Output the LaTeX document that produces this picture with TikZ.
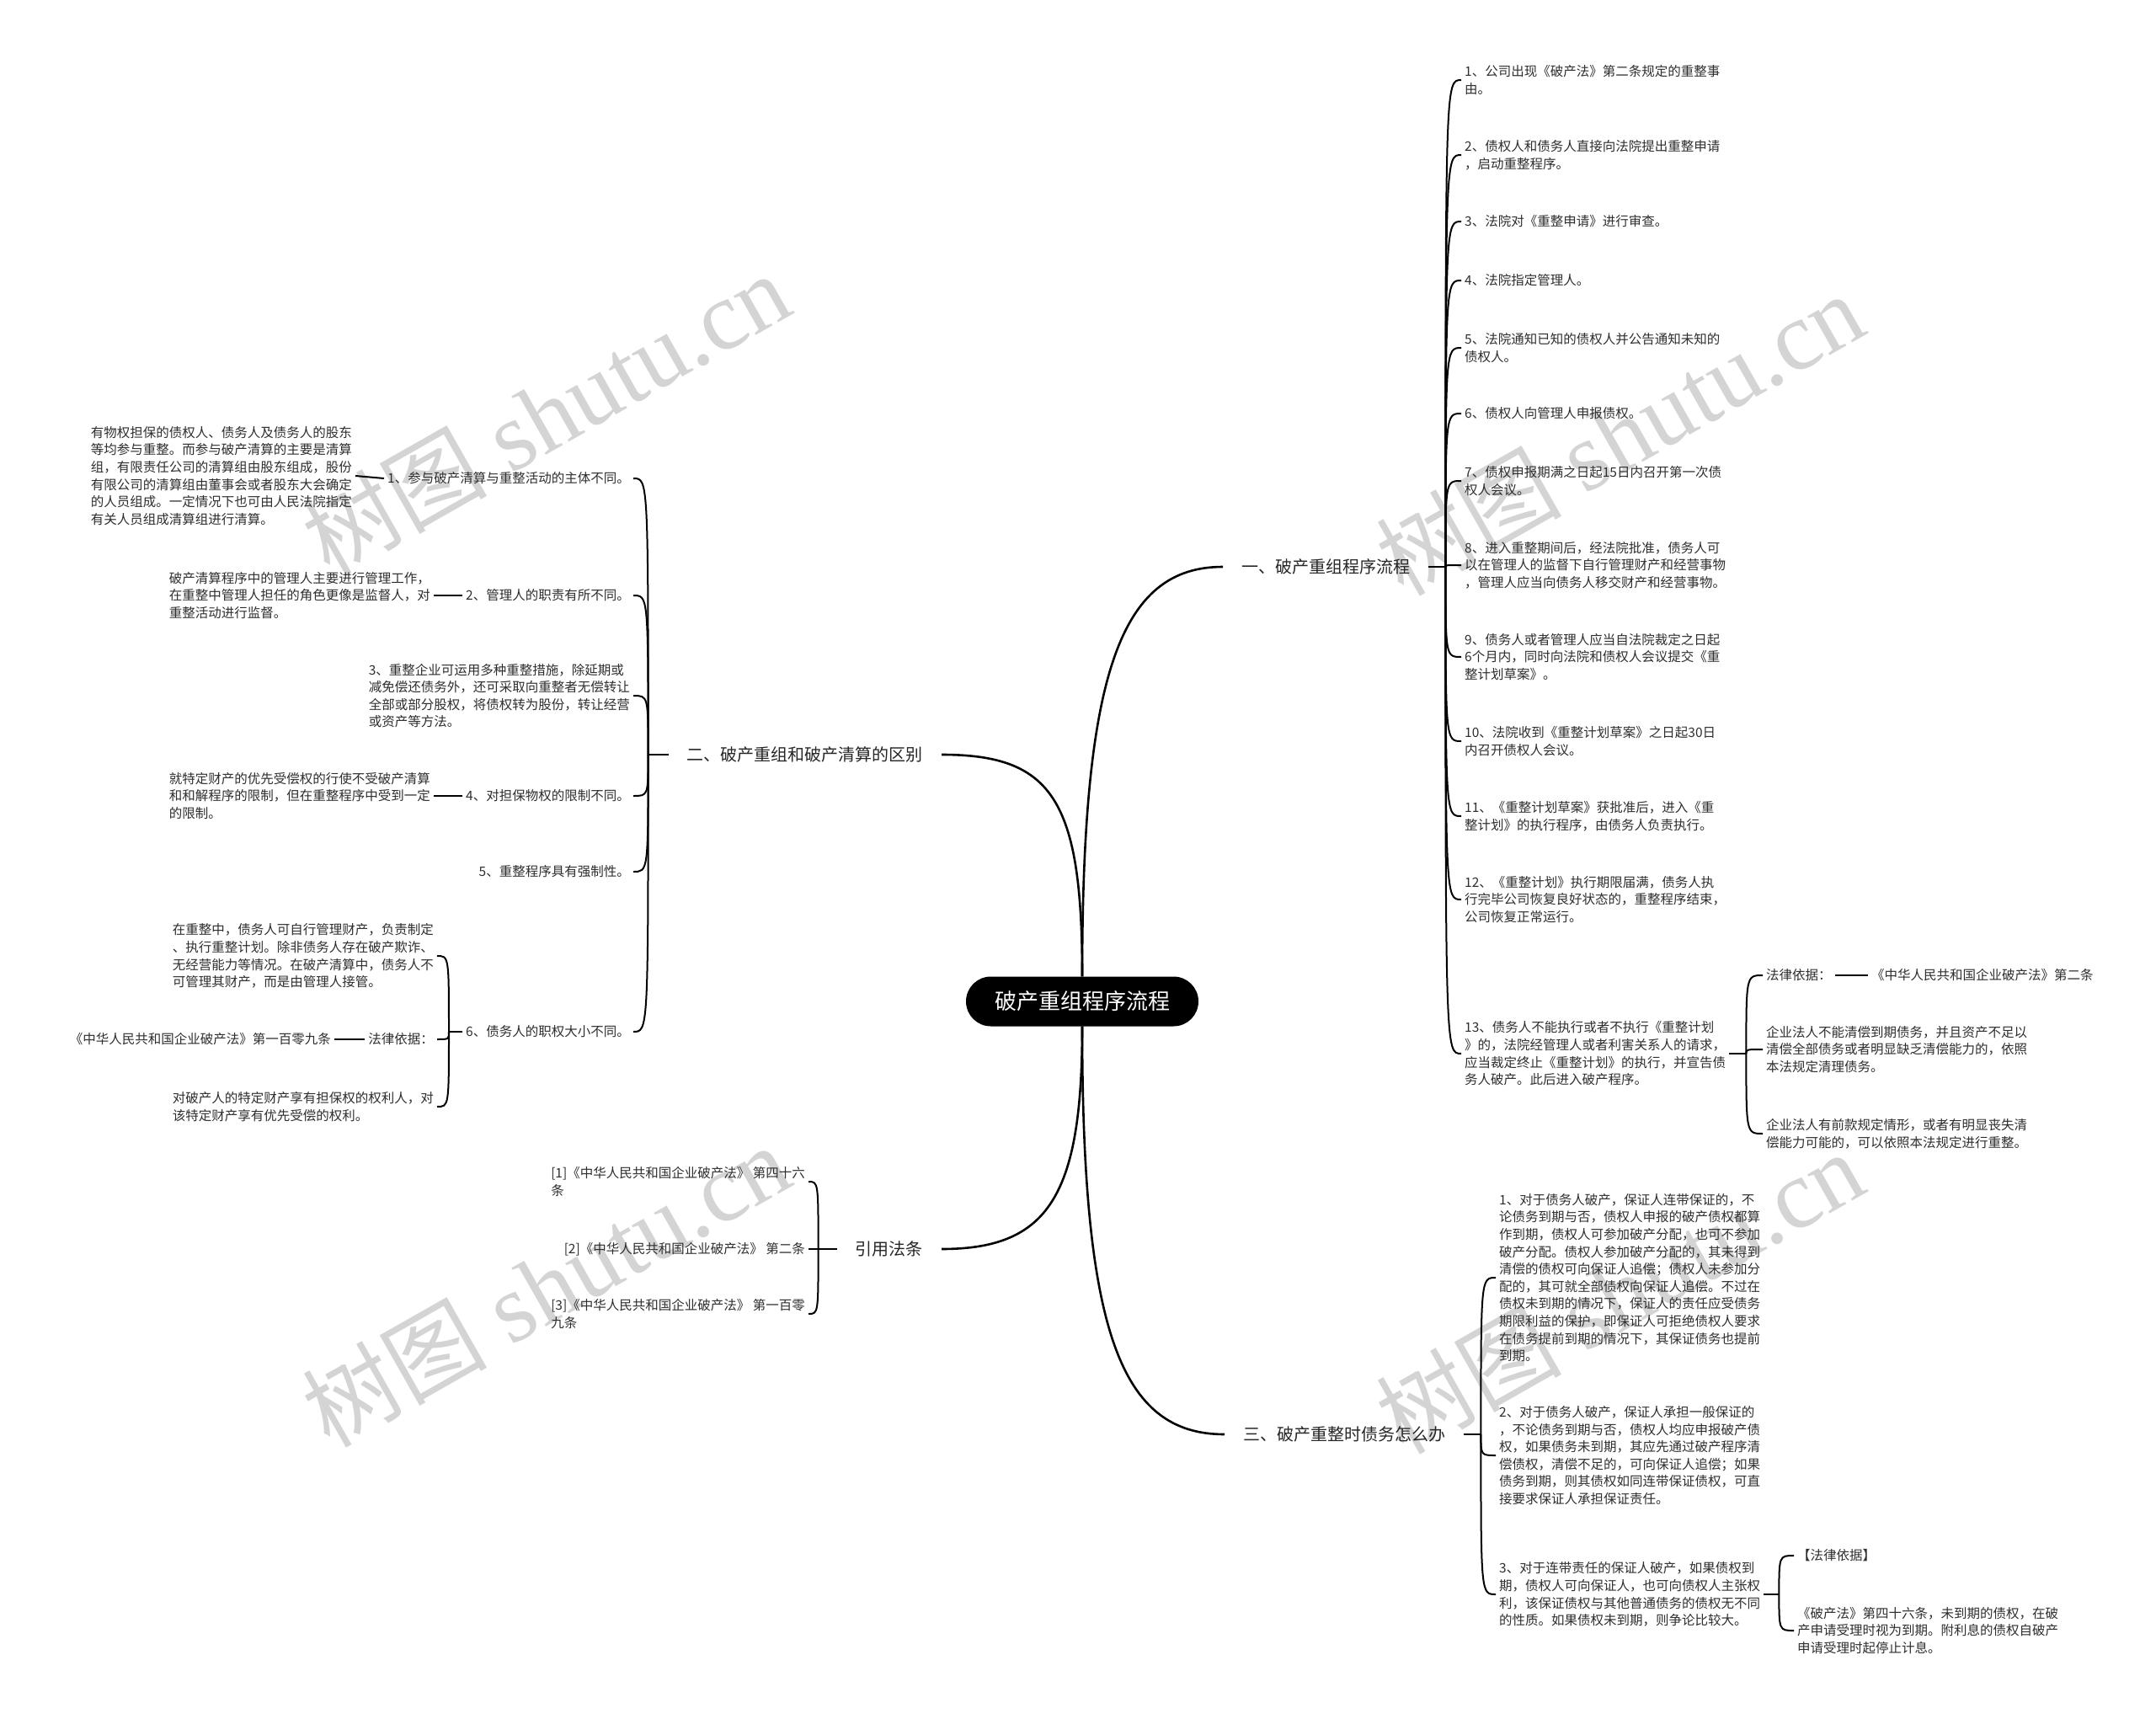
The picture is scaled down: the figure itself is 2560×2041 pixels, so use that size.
\documentclass[tikz,border=0pt]{standalone}
\usepackage{fontspec}
\setmainfont{Noto Sans CJK SC}
\newfontfamily\wmcjk{Noto Sans CJK SC}
\newfontfamily\wmlat{Liberation Serif}
\begin{document}
\begin{tikzpicture}[x=1pt,y=-1pt,
  txt/.style={font=\fontsize{15.5}{20.6}\selectfont, align=left, inner xsep=4pt, inner ysep=3pt, text=black!82},
  mainlbl/.style={font=\fontsize{20}{24}\selectfont, inner xsep=22pt, inner ysep=6pt, text=black!85},
  rootnode/.style={fill=black, text=white, rounded corners=29.5pt, minimum width=276pt, minimum height=59pt, font=\fontsize{26}{30}\selectfont, inner sep=0pt},
  trunk/.style={line width=2.6pt},
  brk/.style={line width=2pt},
  wm/.style={text=black!17, rotate=29.6, inner sep=0pt}
]
\fill[white] (0,0) rectangle (2560,2041);
\useasboundingbox (0,0) rectangle (2560,2041);

% watermarks
\foreach \p/\n in {{(648,492)}/w1,{(1923,516)}/w2,{(648,1527)}/w3,{(1923,1535)}/w4}
  \node[wm] (\n) at \p {{\wmcjk\fontsize{110}{110}\selectfont 树图}\hspace{28pt}{\wmlat\fontsize{116}{116}\selectfont shutu.cn}};

% central and main branches
\node[rootnode] (root) at (1285,1189) {破产重组程序流程};
\node[mainlbl, anchor=west] (b1) at (1452,673) {一、破产重组程序流程};
\node[mainlbl, anchor=east] (b2) at (1118,896) {二、破产重组和破产清算的区别};
\node[mainlbl, anchor=west] (b3) at (1454,1703) {三、破产重整时债务怎么办};
\node[mainlbl, anchor=east] (b4) at (1118,1483) {引用法条};

% branch 1 children
\node[txt, anchor=west] (r1) at (1735,95) {1、公司出现《破产法》第二条规定的重整事\\由。};
\node[txt, anchor=west] (r2) at (1735,184) {2、债权人和债务人直接向法院提出重整申请\\，启动重整程序。};
\node[txt, anchor=west] (r3) at (1735,263) {3、法院对《重整申请》进行审查。};
\node[txt, anchor=west] (r4) at (1735,333) {4、法院指定管理人。};
\node[txt, anchor=west] (r5) at (1735,413) {5、法院通知已知的债权人并公告通知未知的\\债权人。};
\node[txt, anchor=west] (r6) at (1735,491) {6、债权人向管理人申报债权。};
\node[txt, anchor=west] (r7) at (1735,571) {7、债权申报期满之日起15日内召开第一次债\\权人会议。};
\node[txt, anchor=west] (r8) at (1735,671) {8、进入重整期间后，经法院批准，债务人可\\以在管理人的监督下自行管理财产和经营事物\\，管理人应当向债务人移交财产和经营事物。};
\node[txt, anchor=west] (r9) at (1735,780) {9、债务人或者管理人应当自法院裁定之日起\\6个月内，同时向法院和债权人会议提交《重\\整计划草案》。};
\node[txt, anchor=west] (r10) at (1735,880) {10、法院收到《重整计划草案》之日起30日\\内召开债权人会议。};
\node[txt, anchor=west] (r11) at (1735,969) {11、《重整计划草案》获批准后，进入《重\\整计划》的执行程序，由债务人负责执行。};
\node[txt, anchor=west] (r12) at (1735,1068) {12、《重整计划》执行期限届满，债务人执\\行完毕公司恢复良好状态的，重整程序结束，\\公司恢复正常运行。};
\node[txt, anchor=west] (r13) at (1735,1251) {13、债务人不能执行或者不执行《重整计划\\》的，法院经管理人或者利害关系人的请求，\\应当裁定终止《重整计划》的执行，并宣告债\\务人破产。此后进入破产程序。};

\node[txt, anchor=west] (r13a) at (2093,1158) {法律依据：};
\node[txt, anchor=west] (r13a1) at (2218,1158) {《中华人民共和国企业破产法》第二条};
\node[txt, anchor=west] (r13b) at (2093,1246) {企业法人不能清偿到期债务，并且资产不足以\\清偿全部债务或者明显缺乏清偿能力的，依照\\本法规定清理债务。};
\node[txt, anchor=west] (r13c) at (2093,1346) {企业法人有前款规定情形，或者有明显丧失清\\偿能力可能的，可以依照本法规定进行重整。};

% branch 3 children
\node[txt, anchor=west] (t1) at (1776,1517) {1、对于债务人破产，保证人连带保证的，不\\论债务到期与否，债权人申报的破产债权都算\\作到期，债权人可参加破产分配，也可不参加\\破产分配。债权人参加破产分配的，其未得到\\清偿的债权可向保证人追偿；债权人未参加分\\配的，其可就全部债权向保证人追偿。不过在\\债权未到期的情况下，保证人的责任应受债务\\期限利益的保护，即保证人可拒绝债权人要求\\在债务提前到期的情况下，其保证债务也提前\\到期。};
\node[txt, anchor=west] (t2) at (1776,1728) {2、对于债务人破产，保证人承担一般保证的\\，不论债务到期与否，债权人均应申报破产债\\权，如果债务未到期，其应先通过破产程序清\\偿债权，清偿不足的，可向保证人追偿；如果\\债务到期，则其债权如同连带保证债权，可直\\接要求保证人承担保证责任。};
\node[txt, anchor=west] (t3) at (1776,1893) {3、对于连带责任的保证人破产，如果债权到\\期，债权人可向保证人，也可向债权人主张权\\利，该保证债权与其他普通债务的债权无不同\\的性质。如果债权未到期，则争论比较大。};
\node[txt, anchor=west] (t3a) at (2130,1847) {【法律依据】};
\node[txt, anchor=west] (t3b) at (2130,1936) {《破产法》第四十六条，未到期的债权，在破\\产申请受理时视为到期。附利息的债权自破产\\申请受理时起停止计息。};

% branch 2 children
\node[txt, anchor=east] (l1) at (752,568) {1、参与破产清算与重整活动的主体不同。};
\node[txt, anchor=east] (l1a) at (422,565) {有物权担保的债权人、债务人及债务人的股东\\等均参与重整。而参与破产清算的主要是清算\\组，有限责任公司的清算组由股东组成，股份\\有限公司的清算组由董事会或者股东大会确定\\的人员组成。一定情况下也可由人民法院指定\\有关人员组成清算组进行清算。};
\node[txt, anchor=east] (l2) at (752,707) {2、管理人的职责有所不同。};
\node[txt, anchor=east] (l2a) at (515,707) {破产清算程序中的管理人主要进行管理工作，\\在重整中管理人担任的角色更像是监督人，对\\重整活动进行监督。};
\node[txt, anchor=east] (l3) at (752,826) {3、重整企业可运用多种重整措施，除延期或\\减免偿还债务外，还可采取向重整者无偿转让\\全部或部分股权，将债权转为股份，转让经营\\或资产等方法。};
\node[txt, anchor=east] (l4) at (752,945) {4、对担保物权的限制不同。};
\node[txt, anchor=east] (l4a) at (515,945) {就特定财产的优先受偿权的行使不受破产清算\\和和解程序的限制，但在重整程序中受到一定\\的限制。};
\node[txt, anchor=east] (l5) at (752,1035) {5、重整程序具有强制性。};
\node[txt, anchor=east] (l6) at (752,1225) {6、债务人的职权大小不同。};
\node[txt, anchor=east] (l6a) at (519,1135) {在重整中，债务人可自行管理财产，负责制定\\、执行重整计划。除非债务人存在破产欺诈、\\无经营能力等情况。在破产清算中，债务人不\\可管理其财产，而是由管理人接管。};
\node[txt, anchor=east] (l6b) at (519,1234) {法律依据：};
\node[txt, anchor=east] (l6b1) at (397,1234) {《中华人民共和国企业破产法》第一百零九条};
\node[txt, anchor=east] (l6c) at (519,1314) {对破产人的特定财产享有担保权的权利人，对\\该特定财产享有优先受偿的权利。};

% branch 4 children
\node[txt, anchor=east] (c1) at (960,1403) {[1]《中华人民共和国企业破产法》 第四十六\\条};
\node[txt, anchor=east] (c2) at (960,1483) {[2]《中华人民共和国企业破产法》 第二条};
\node[txt, anchor=east] (c3) at (960,1560) {[3]《中华人民共和国企业破产法》 第一百零\\九条};

% junctions
\coordinate (J1) at ([xshift=20pt]b1.east);
\coordinate (J13) at ([xshift=20pt]r13.east);
\coordinate (J3) at ([xshift=20pt]b3.east);
\coordinate (Jt3) at ([xshift=18pt]t3.east);
\coordinate (J2) at ([xshift=-24pt]b2.west);
\coordinate (J6) at ([xshift=-16pt]l6.west);
\coordinate (J4) at ([xshift=-22pt]b4.west);

% trunk curves
\draw[trunk] (root.north) .. controls (1285,800) and (1330,673) .. (b1.west);
\draw[trunk] (root.north) .. controls (1285,950) and (1250,896) .. (b2.east);
\draw[trunk] (root.south) .. controls (1285,1580) and (1330,1703) .. (b3.west);
\draw[trunk] (root.south) .. controls (1285,1420) and (1245,1483) .. (b4.east);

% brackets right
\draw[brk] (b1.east) -- (J1);
\foreach \c in {r1,r2,r3,r4,r5,r6,r7,r8,r9,r10,r11,r12,r13}
  \draw[brk] (J1) .. controls (J1 |- \c.west) and (J1 |- \c.west) .. (\c.west);
\draw[brk] (r13.east) -- (J13);
\foreach \c in {r13a,r13b,r13c}
  \draw[brk] (J13) .. controls (J13 |- \c.west) and (J13 |- \c.west) .. (\c.west);
\draw[brk] (r13a.east) -- (r13a1.west);
\draw[brk] (b3.east) -- (J3);
\foreach \c in {t1,t2,t3}
  \draw[brk] (J3) .. controls (J3 |- \c.west) and (J3 |- \c.west) .. (\c.west);
\draw[brk] (t3.east) -- (Jt3);
\foreach \c in {t3a,t3b}
  \draw[brk] (Jt3) .. controls (Jt3 |- \c.west) and (Jt3 |- \c.west) .. (\c.west);

% brackets left
\draw[brk] (b2.west) -- (J2);
\foreach \c in {l1,l2,l3,l4,l5,l6}
  \draw[brk] (J2) .. controls (J2 |- \c.east) and (J2 |- \c.east) .. (\c.east);
\draw[brk] (l1.west) -- (l1a.east);
\draw[brk] (l2.west) -- (l2a.east);
\draw[brk] (l4.west) -- (l4a.east);
\draw[brk] (l6.west) -- (J6);
\foreach \c in {l6a,l6b,l6c}
  \draw[brk] (J6) .. controls (J6 |- \c.east) and (J6 |- \c.east) .. (\c.east);
\draw[brk] (l6b.west) -- (l6b1.east);
\draw[brk] (b4.west) -- (J4);
\foreach \c in {c1,c2,c3}
  \draw[brk] (J4) .. controls (J4 |- \c.east) and (J4 |- \c.east) .. (\c.east);
\end{tikzpicture}
\end{document}
